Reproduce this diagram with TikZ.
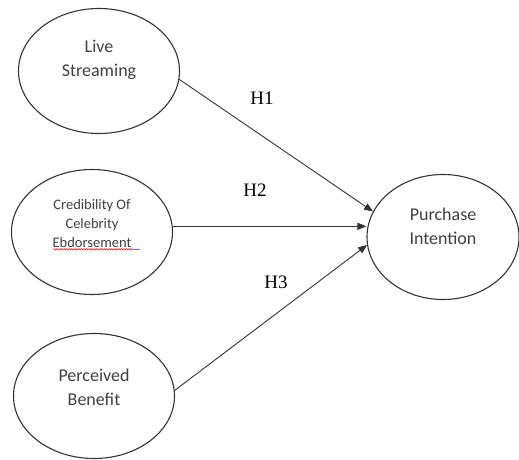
\documentclass[tikz,border=0pt]{standalone}
\usepackage{fontspec}
\setmainfont{Liberation Serif}
\newfontfamily\ovalfont{Carlito}
\usetikzlibrary{shapes.geometric,arrows.meta,decorations.pathmorphing}
\definecolor{inkgray}{HTML}{333333}
\definecolor{textgray}{HTML}{404040}
\tikzset{
  construct/.style={ % image of a latent variable
    draw=inkgray, ellipse, line width=1.1pt,
    minimum width=161pt, minimum height=125pt,
    inner sep=0pt
  },
  ovaltext/.style={ % text inside a construct
    align=center, text=textgray, inner sep=0pt,
    font=\ovalfont\fontsize{18}{24}\selectfont
  },
  smalltext/.style={
    ovaltext, font=\ovalfont\fontsize{14.5}{19}\selectfont
  },
  hyp/.style={ % image of a hypothesis arrow
    draw=inkgray, line width=0.9pt,
    -{Triangle[length=9pt,width=7pt]}
  },
  hlabel/.style={
    font=\fontsize{19}{22}\selectfont, inner sep=0pt
  }
}
\begin{document}
\begin{tikzpicture}[x=1pt,y=-1pt]
  \useasboundingbox (0,0) rectangle (519,460);

  \node[construct] (ls) at (99,71) {};
  \node[construct] (cob) at (92,232) {};
  \node[construct] (pb) at (94,396) {};
  \node[construct, minimum width=152pt] (pi) at (443,237) {};

  \node[ovaltext] (ls_text) at (99,60) {Live\\Streaming};
  \node[smalltext] (cob_text) at (92,224) {Credibility Of\\Celebrity\\Ebdorsement};
  \node[ovaltext] (pb_text) at (94,387) {Perceived\\Benefit};
  \node[ovaltext] (pi_text) at (443,226) {Purchase\\Intention};

  % spell-check marks under the last word
  \draw[red, line width=0.5pt, decorate,
    decoration={snake, amplitude=0.7pt, segment length=2.5pt}]
    (cob_text.south west) ++(1,1) -- ++(80,0) coordinate (sq_end);
  \draw[blue!60, line width=1pt] (sq_end) -- ++(7,0);

  \draw[hyp] (ls.-6) -- (pi.160);
  \draw[hyp] (cob.4) -- (cob.4 -| pi.west);
  \draw[hyp] (pb.4) -- (pi.186);

  \node[hlabel] (h1) at (262,98) {H1};
  \node[hlabel] (h2) at (255,190) {H2};
  \node[hlabel] (h3) at (276,282) {H3};
\end{tikzpicture}
\end{document}
